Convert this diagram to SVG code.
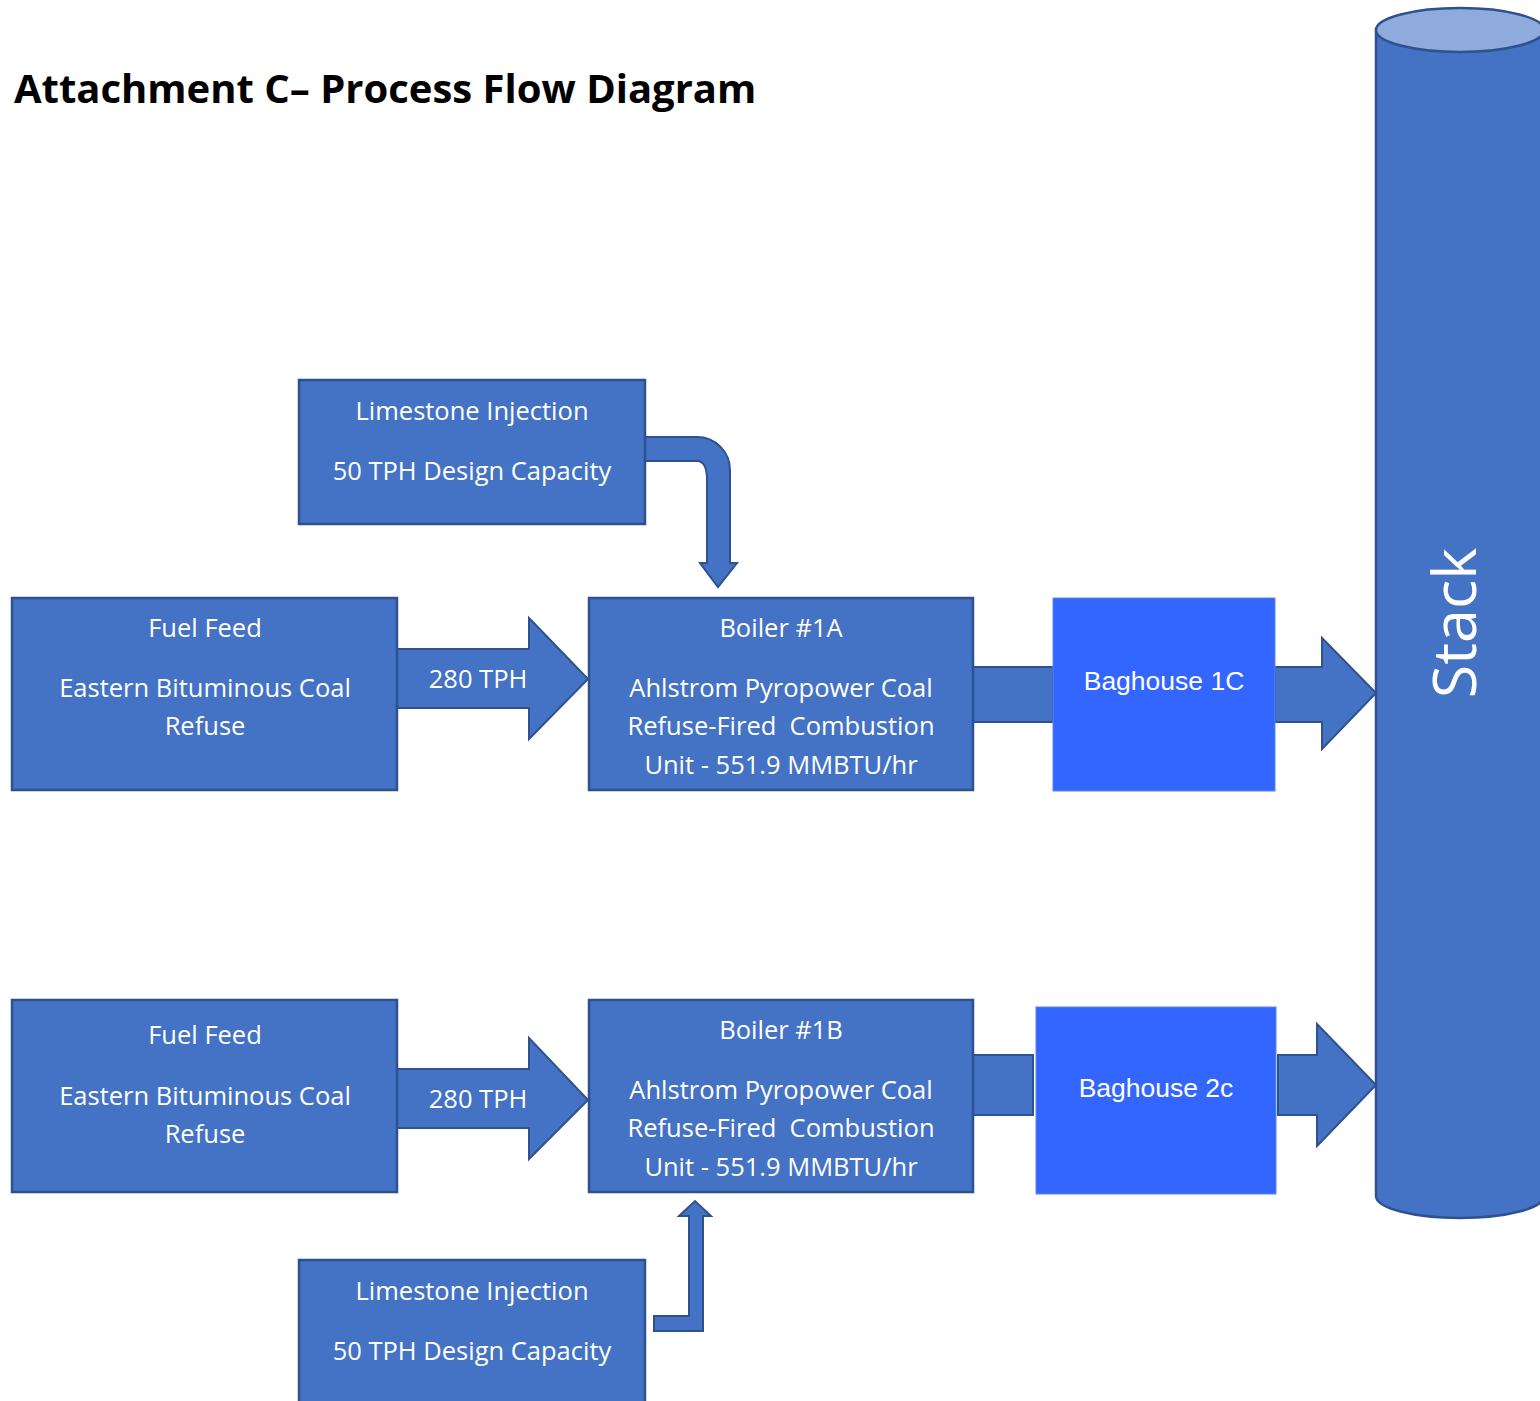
<svg xmlns="http://www.w3.org/2000/svg" width="1540" height="1401" viewBox="0 0 1540 1401">
<style>
.box{fill:#4472C4;stroke:#2F528F;stroke-width:2.5}
.bag{fill:#3366FF;stroke:#5B84F0;stroke-width:1}
.arr{fill:#4472C4;stroke:#2F528F;stroke-width:2;stroke-linejoin:miter}
.t{font-family:"Open Sans","Noto Sans",sans-serif;font-size:25.5px;fill:#FFFFFF;text-anchor:middle}
.a{font-family:"Liberation Sans",Arial,sans-serif;font-size:26.5px;fill:#FFFFFF;text-anchor:middle}
</style>
<rect width="1540" height="1401" fill="#FFFFFF"/>
<text x="14" y="103" font-family="Open Sans, Noto Sans, sans-serif" font-weight="bold" font-size="40" fill="#000000">Attachment C– Process Flow Diagram</text>

<g id="connectors">
  <path class="arr" d="M397,649 H529 V618 L588,679 L529,739 V708 H397 Z"/>
  <path class="arr" d="M397,1069 H529 V1038 L588,1100 L529,1159 V1128 H397 Z"/>
  <path class="arr" d="M645,437 H697 A33,33 0 0 1 730,470 V563 H737 L718,587 L700,563 H707 V480 Q707,461 697,461 H645 Z"/>
  <path class="arr" d="M654,1316 H689 V1216 H679 L695,1201 L711,1216 H703 V1331 H654 Z"/>
  <rect class="arr" x="973" y="667" width="80" height="55"/>
  <path class="arr" d="M1275,667 H1322 V638 L1376,693 L1322,749 V722 H1275 Z"/>
  <rect class="arr" x="973" y="1055" width="60" height="60"/>
  <path class="arr" d="M1278,1055 H1317 V1024 L1376,1085 L1317,1146 V1115 H1278 Z"/>
</g>

<g id="stack">
  <path d="M1376,30 V1196 A84,22 0 0 0 1544,1196 V30 Z" fill="#4472C4" stroke="#2F528F" stroke-width="2.5"/>
  <ellipse cx="1460" cy="30" rx="84" ry="22" fill="#8FAADC" stroke="#2F528F" stroke-width="2.5"/>
  <text transform="translate(1476,623) rotate(-90)" font-family="Open Sans, Noto Sans, sans-serif" font-size="61" fill="#FFFFFF" text-anchor="middle">Stack</text>
</g>

<g id="limestone-top">
  <rect class="box" x="299" y="380" width="346" height="144"/>
  <text class="t" x="472" y="420">Limestone Injection</text>
  <text class="t" x="472" y="480">50 TPH Design Capacity</text>
</g>

<g id="fuel-feed-top">
  <rect class="box" x="12" y="598" width="385" height="192"/>
  <text class="t" x="205" y="637">Fuel Feed</text>
  <text class="t" x="205" y="697">Eastern Bituminous Coal</text>
  <text class="t" x="205" y="735">Refuse</text>
</g>
<text class="t" x="478" y="688" id="lbl-top">280 TPH</text>

<g id="boiler-1a">
  <rect class="box" x="589" y="598" width="384" height="192"/>
  <text class="t" x="781" y="637">Boiler #1A</text>
  <text class="t" x="781" y="697">Ahlstrom Pyropower Coal</text>
  <text class="t" x="781" y="735" xml:space="preserve">Refuse-Fired  Combustion</text>
  <text class="t" x="781" y="774">Unit - 551.9 MMBTU/hr</text>
</g>

<g id="baghouse-1c">
  <rect class="bag" x="1053" y="598" width="222" height="193"/>
  <text class="a" x="1164" y="690">Baghouse 1C</text>
</g>

<g id="fuel-feed-bottom">
  <rect class="box" x="12" y="1000" width="385" height="192"/>
  <text class="t" x="205" y="1044">Fuel Feed</text>
  <text class="t" x="205" y="1105">Eastern Bituminous Coal</text>
  <text class="t" x="205" y="1143">Refuse</text>
</g>
<text class="t" x="478" y="1108" id="lbl-bottom">280 TPH</text>

<g id="boiler-1b">
  <rect class="box" x="589" y="1000" width="384" height="192"/>
  <text class="t" x="781" y="1039">Boiler #1B</text>
  <text class="t" x="781" y="1099">Ahlstrom Pyropower Coal</text>
  <text class="t" x="781" y="1137" xml:space="preserve">Refuse-Fired  Combustion</text>
  <text class="t" x="781" y="1176">Unit - 551.9 MMBTU/hr</text>
</g>

<g id="baghouse-2c">
  <rect class="bag" x="1036" y="1007" width="240" height="187"/>
  <text class="a" x="1156" y="1097">Baghouse 2c</text>
</g>

<g id="limestone-bottom">
  <rect class="box" x="299" y="1260" width="346" height="150"/>
  <text class="t" x="472" y="1300">Limestone Injection</text>
  <text class="t" x="472" y="1360">50 TPH Design Capacity</text>
</g>
</svg>
